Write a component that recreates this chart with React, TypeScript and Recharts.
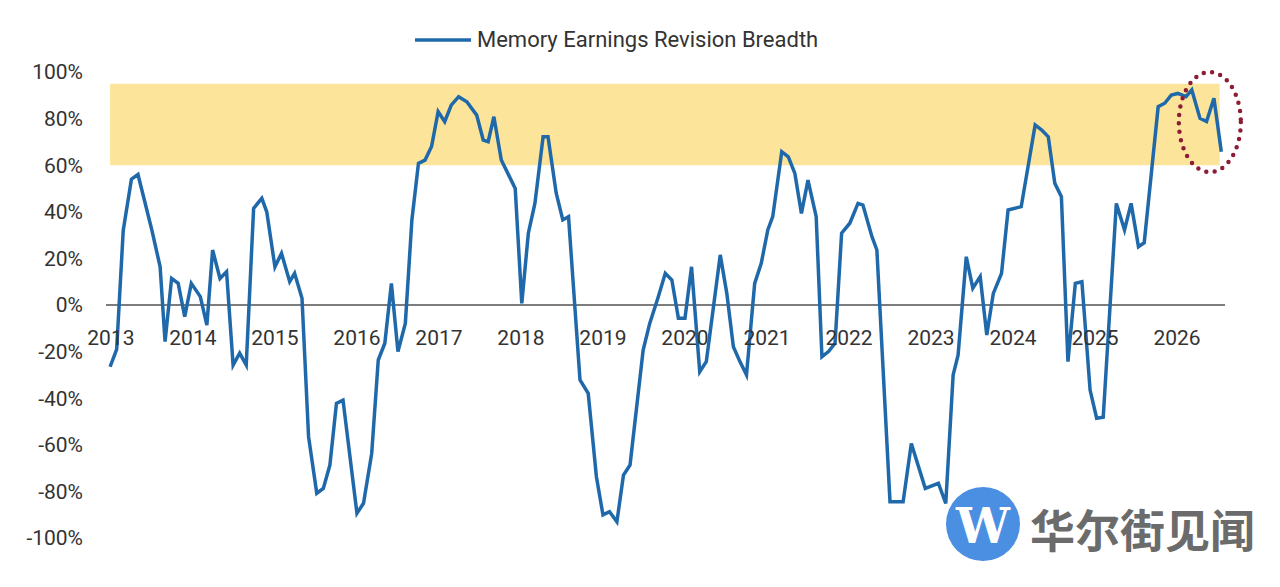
import React from 'react';
import {
  LineChart,
  Line,
  XAxis,
  YAxis,
  ReferenceArea,
  ReferenceLine,
  ReferenceDot,
  Legend,
} from 'recharts';

// time in decimal years
const dates = [
  2012.99, 2013.07, 2013.15, 2013.25, 2013.33, 2013.5, 2013.6, 2013.66, 2013.74, 2013.82,
  2013.9, 2013.98, 2014.09, 2014.17, 2014.24, 2014.33, 2014.41, 2014.49, 2014.57, 2014.65,
  2014.74, 2014.84, 2014.9, 2015.0, 2015.08, 2015.18, 2015.24, 2015.33, 2015.41, 2015.51,
  2015.59, 2015.67, 2015.75, 2015.83, 2016.0, 2016.08, 2016.18, 2016.26, 2016.34, 2016.42,
  2016.5, 2016.59, 2016.67, 2016.75, 2016.83, 2016.91, 2016.99, 2017.07, 2017.15, 2017.24,
  2017.34, 2017.46, 2017.54, 2017.6, 2017.67, 2017.76, 2017.84, 2017.93, 2018.01, 2018.09,
  2018.17, 2018.27, 2018.33, 2018.43, 2018.51, 2018.58, 2018.72, 2018.82, 2018.92, 2019.0,
  2019.08, 2019.17, 2019.25, 2019.33, 2019.49, 2019.57, 2019.67, 2019.76, 2019.84, 2019.92,
  2020.0, 2020.08, 2020.18, 2020.26, 2020.43, 2020.51, 2020.59, 2020.67, 2020.75, 2020.85,
  2020.93, 2021.01, 2021.07, 2021.18, 2021.26, 2021.34, 2021.42, 2021.5, 2021.6, 2021.67,
  2021.75, 2021.83, 2021.91, 2022.01, 2022.11, 2022.17, 2022.28, 2022.34, 2022.5, 2022.66,
  2022.76, 2022.93, 2023.09, 2023.18, 2023.27, 2023.33, 2023.43, 2023.51, 2023.6, 2023.68,
  2023.76, 2023.86, 2023.94, 2024.1, 2024.27, 2024.35, 2024.43, 2024.51, 2024.59, 2024.67,
  2024.76, 2024.84, 2024.94, 2025.02, 2025.1, 2025.26, 2025.36, 2025.44, 2025.53, 2025.6,
  2025.77, 2025.85, 2025.93, 2026.01, 2026.11, 2026.18, 2026.28, 2026.36, 2026.45, 2026.54,
];

// Memory Earnings Revision Breadth, %
const breadth = [
  -26.5, -19, 32, 54, 56, 32, 16.4, -15.7, 11.4, 9.3,
  -5, 9.3, 3.6, -8.6, 23.6, 11.4, 14.3, -25.8, -20.7, -25.8,
  41.5, 45.8, 40, 16.4, 22.2, 10, 13.6, 2.9, -56.5, -80.8,
  -78.7, -68.7, -42.2, -40.8, -89.4, -85.1, -63.7, -23.6, -16.4, 9.3,
  -20, -7.9, 36.5, 60.8, 62.2, 68, 83, 78.7, 85.8, 89.4,
  87.2, 81.5, 70.8, 70.1, 80.8, 62.2, 56.5, 50, 0.7, 30.8,
  43.6, 72.2, 72.2, 48, 36.5, 37.9, -32.2, -37.9, -73.7, -90.1,
  -88.7, -93, -73, -68.7, -19.3, -7.9, 3, 13.6, 10.7, -5.7,
  -5.7, 16.4, -28.6, -24.3, 21.5, 5, -17.9, -24.3, -30, 9.3,
  17.9, 32.2, 37.9, 65.8, 63.6, 56.5, 39.3, 53.6, 37.9, -22.2,
  -20, -16.4, 30.8, 35.1, 43.6, 42.9, 29.3, 23.6, -84.4, -84.4,
  -59.4, -78.7, -76.5, -85.1, -30, -21.5, 20.7, 7.2, 12.2, -12.9,
  5, 13.6, 40.8, 42.2, 77.3, 75.1, 72.2, 52.2, 46.5, -24.3,
  9.3, 10, -36.5, -48.6, -48.2, 43.6, 32.2, 43.6, 25, 26.7,
  85.1, 86.6, 90.1, 90.8, 89.4, 92.3, 80.1, 78.7, 88.7, 65.8,
];

const yearLabels = [2013, 2014, 2015, 2016, 2017, 2018, 2019, 2020, 2021, 2022, 2023, 2024, 2025, 2026];
const yTicks = [-100, -80, -60, -40, -20, 0, 20, 40, 60, 80, 100];

// shaded "high breadth" zone and the highlighted recent reading
const bandLow = 60;
const bandHigh = 95;
const highlight = { t: 2026.4, v: 78.5 };

const LINE_COLOR = '#1f69ab';
const FONT = 'Roboto, "Noto Sans", sans-serif';

const data = dates.map((t, i) => ({ t, v: breadth[i] }));

const renderLegend = () => (
  <div style={{ display: 'flex', alignItems: 'center', fontFamily: FONT, fontSize: 22, color: '#333' }}>
    <svg width={56} height={6}>
      <line x1={0} y1={3} x2={56} y2={3} stroke={LINE_COLOR} strokeWidth={3.5} />
    </svg>
    <span style={{ marginLeft: 6 }}>Memory Earnings Revision Breadth</span>
  </div>
);

const DottedEllipse = (props: any) => (
  <ellipse
    cx={props.cx}
    cy={props.cy}
    rx={31}
    ry={50}
    fill="none"
    stroke="#8c1d35"
    strokeWidth={4.5}
    strokeLinecap="round"
    strokeDasharray="0 8.5"
  />
);

export default function App() {
  return (
    <div style={{ position: 'absolute', left: 0, top: 0, width: 1280, height: 587, background: '#fff' }}>
      <LineChart width={1280} height={587} data={data} margin={{ top: 72, right: 55, bottom: 49, left: 0 }}>
        <XAxis dataKey="t" type="number" domain={[2012.94, 2026.585]} hide />
        <YAxis
          type="number"
          domain={[-100, 100]}
          ticks={yTicks}
          tickFormatter={(v: number) => `${v}%`}
          axisLine={false}
          tickLine={false}
          width={106}
          tickMargin={17}
          tick={{ fill: '#333', fontSize: 21, fontFamily: FONT }}
          interval={0}
        />
        <ReferenceArea x1={dates[0]} x2={dates[dates.length - 1] - 0.02} y1={bandLow} y2={bandHigh} fill="#fce59a" fillOpacity={1} stroke="none" />
        <ReferenceLine y={0} stroke="#7d7d7d" strokeWidth={2} />
        {yearLabels.map((yr) => (
          <ReferenceDot
            key={yr}
            x={yr}
            y={0}
            r={0}
            fill="none"
            stroke="none"
            label={{ value: String(yr), position: 'bottom', offset: 25, fill: '#333', fontSize: 21, fontFamily: FONT }}
          />
        ))}
        <Line type="linear" dataKey="v" stroke={LINE_COLOR} strokeWidth={3.5} dot={false} isAnimationActive={false} />
        <ReferenceDot x={highlight.t} y={highlight.v} r={1} shape={DottedEllipse} />
        <Legend layout="horizontal" verticalAlign="middle" align="center" wrapperStyle={{ top: 27, left: 415, width: 'auto' }} content={renderLegend} />
      </LineChart>
      <svg width={1280} height={587} style={{ position: 'absolute', left: 0, top: 0, pointerEvents: 'none' }}>
        <circle cx={983} cy={524} r={37} fill="#4a8fe2" />
        <text x={983} y={526} textAnchor="middle" dominantBaseline="central" fill="#fff" fontSize={48} fontWeight={700} fontFamily='"DejaVu Serif", "Liberation Serif", serif'>
          W
        </text>
        <text x={1030} y={528} dominantBaseline="central" fill="#6b6b6b" fontSize={45} fontWeight={700} fontFamily='"Noto Sans CJK SC", sans-serif'>
          华尔街见闻
        </text>
      </svg>
    </div>
  );
}
